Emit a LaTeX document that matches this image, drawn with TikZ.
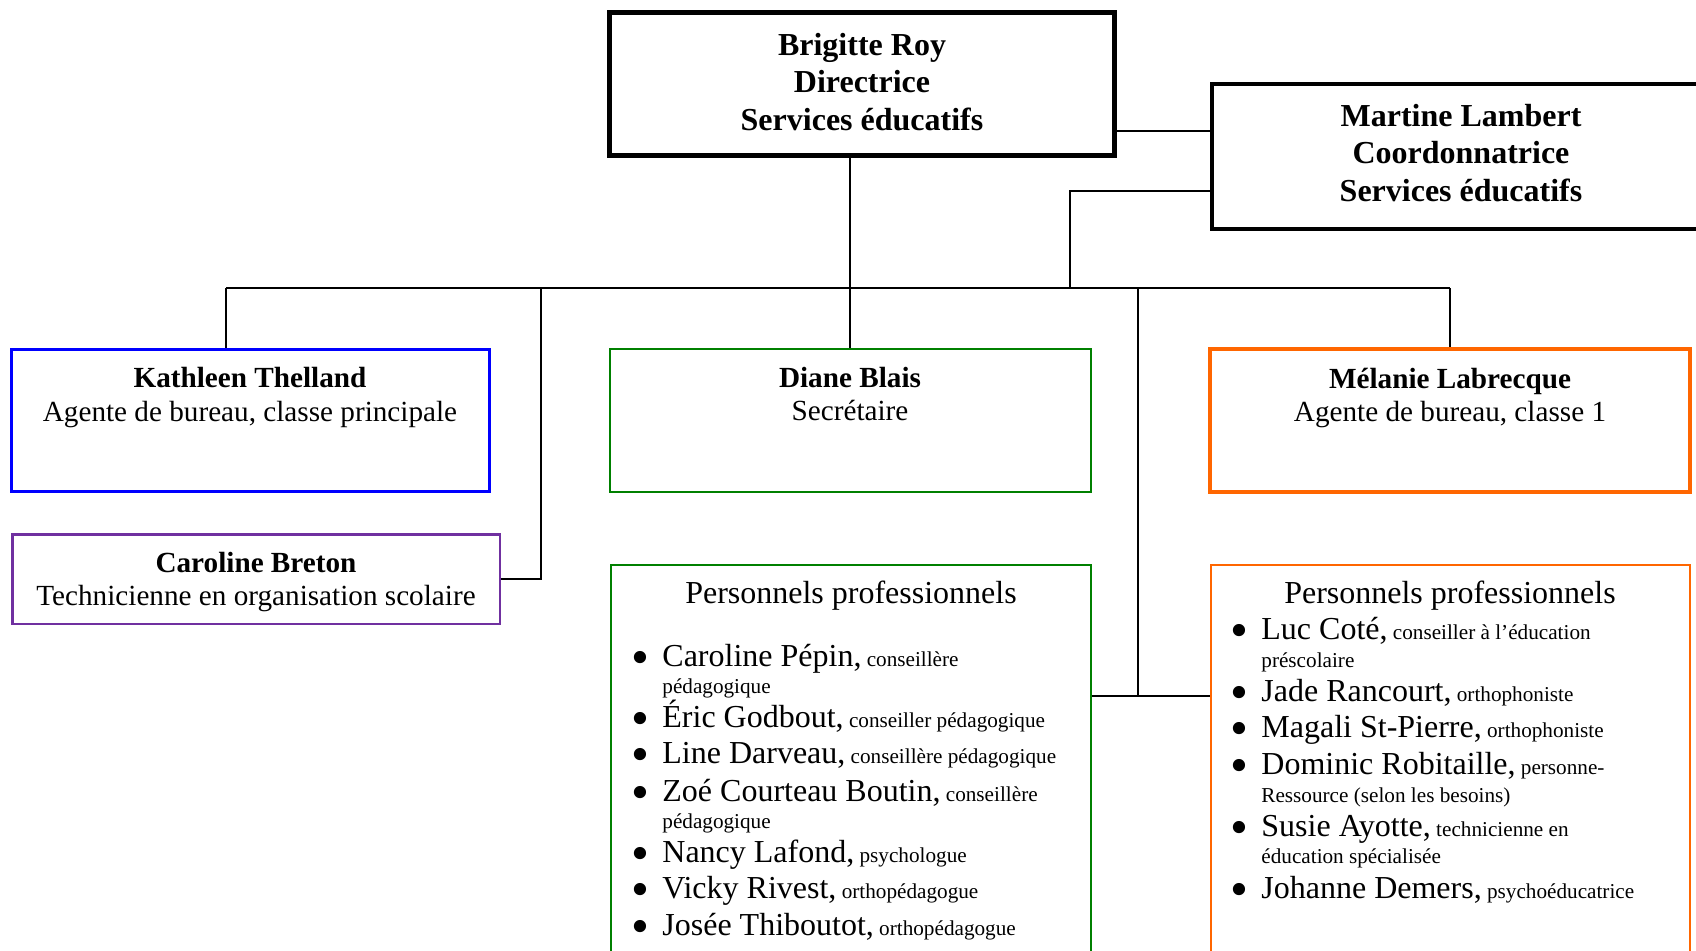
\documentclass[tikz,border=0pt]{standalone}
\usepackage{fontspec}
\setmainfont{Liberation Serif}
\newcommand{\petit}[1]{{\fontsize{10.6}{13}\selectfont#1}}
\newcommand{\pers}[2]{{\fontsize{16}{19}\selectfont #1,}\petit{ #2}}
\newcommand{\puce}{\makebox[12pt][l]{\hspace{-3.5pt}\raisebox{-4.2pt}[0pt][0pt]{\scalebox{1.6}{\textbullet}}}}

\begin{document}
\begin{tikzpicture}[x=0.5pt,y=-0.5pt,
  boite/.style={draw,rectangle,inner sep=0pt},
  txt/.style={anchor=base,inner sep=0pt},
  itm/.style={anchor=base west,inner sep=0pt,font=\fontsize{16}{19}\selectfont},
  lien/.style={line width=0.7pt},
  bus/.style={line width=1pt}]

\definecolor{cbleu}{RGB}{0,0,255};
\definecolor{cviolet}{RGB}{112,48,160};
\definecolor{cvert}{RGB}{0,128,0};
\definecolor{corange}{RGB}{255,102,0};
\def\gros{\fontsize{16}{19}\selectfont}
\def\moyen{\fontsize{14.6}{17}\selectfont}

\useasboundingbox (0,0) rectangle (1696,950);
\clip (0,0) rectangle (1696,950);

%%Cadres
\node[boite,line width=2.6pt,minimum width=252.5pt,minimum height=71.5pt] (roy) at (862,84) {};
\node[boite,line width=1.75pt,minimum width=249pt,minimum height=72.5pt] (lambert) at (1461,156.5) {};
\node[boite,draw=cbleu,line width=1.5pt,minimum width=239pt,minimum height=71pt] (thelland) at (250.5,420.5) {};
\node[boite,draw=cviolet,line width=1.25pt,minimum width=243.75pt,minimum height=44.75pt] (breton) at (256,579) {};
\node[boite,draw=cvert,line width=1pt,minimum width=240.5pt,minimum height=71.5pt] (blais) at (850.5,420.5) {};
\node[boite,draw=corange,line width=2pt,minimum width=240pt,minimum height=71.5pt] (labrecque) at (1450,420.5) {};
\node[boite,draw=cvert,line width=1pt,minimum width=240pt,minimum height=217.5pt] (profA) at (851,782.5) {};
\node[boite,draw=corange,line width=1pt,minimum width=239.5pt,minimum height=217.5pt] (profB) at (1450.5,782.5) {};

%%Textes des cadres
\node[txt,font=\gros\bfseries] (roy1) at (862,55) {Brigitte Roy};
\node[txt,font=\gros\bfseries] (roy2) at (862,92) {Directrice};
\node[txt,font=\gros\bfseries] (roy3) at (862,130) {Services éducatifs};
\node[txt,font=\gros\bfseries] (lam1) at (1461,126) {Martine Lambert};
\node[txt,font=\gros\bfseries] (lam2) at (1461,163) {Coordonnatrice};
\node[txt,font=\gros\bfseries] (lam3) at (1461,201) {Services éducatifs};
\node[txt,font=\moyen\bfseries] (the1) at (250,387) {Kathleen Thelland};
\node[txt,font=\moyen] (the2) at (250,421) {Agente de bureau, classe principale};
\node[txt,font=\moyen\bfseries] (bre1) at (256,572) {Caroline Breton};
\node[txt,font=\moyen] (bre2) at (256,605) {Technicienne en organisation scolaire};
\node[txt,font=\moyen\bfseries] (bla1) at (850,387) {Diane Blais};
\node[txt,font=\moyen] (bla2) at (850,420) {Secrétaire};
\node[txt,font=\moyen\bfseries] (lab1) at (1450,388) {Mélanie Labrecque};
\node[txt,font=\moyen] (lab2) at (1450,421) {Agente de bureau, classe 1};

%%Personnels
\node[txt,font=\gros] (titA) at (851,603) {Personnels professionnels};
\foreach \yy/\lbl [count=\i] in {666/{\pers{Caroline Pépin}{conseillère}},
  727/{\pers{Éric Godbout}{conseiller pédagogique}},
  763/{\pers{Line Darveau}{conseillère pédagogique}},
  801/{\pers{Zoé Courteau Boutin}{conseillère}},
  862/{\pers{Nancy Lafond}{psychologue}},
  898/{\pers{Vicky Rivest}{orthopédagogue}},
  935/{\pers{Josée Thiboutot}{orthopédagogue}}}
  \node[itm] (pa\i) at (638,\yy) {\puce\lbl};
\node[itm] (pa1b) at (662,693) {\petit{pédagogique}};
\node[itm] (pa4b) at (662,828) {\petit{pédagogique}};

\node[txt,font=\gros] (titB) at (1450,603) {Personnels professionnels};
\foreach \yy/\lbl [count=\i] in {639/{\pers{Luc Coté}{conseiller à l’éducation}},
  701/{\pers{Jade Rancourt}{orthophoniste}},
  737/{\pers{Magali St-Pierre}{orthophoniste}},
  774/{\pers{Dominic Robitaille}{personne-}},
  836/{\pers{Susie Ayotte}{technicienne en}},
  898/{\pers{Johanne Demers}{psychoéducatrice}}}
  \node[itm] (pb\i) at (1237,\yy) {\puce\lbl};
\node[itm] (pb1b) at (1261,667) {\petit{préscolaire}};
\node[itm] (pb4b) at (1261,802) {\petit{Ressource (selon les besoins)}};
\node[itm] (pb5b) at (1261,863) {\petit{éducation spécialisée}};

%%Liens
\coordinate (b0) at (226,288);
\coordinate (b1) at (541,288);
\coordinate (b2) at (850,288);
\coordinate (b3) at (1070,288);
\coordinate (b4) at (1138,288);
\coordinate (b5) at (1450,288);
\coordinate (h0) at (1114,131);
\coordinate (h1) at (1070,191);
\coordinate (p0) at (1138,696);

\draw[bus] (b0) -- (b5);
\draw[lien] (b0) -- (b0 |- thelland.north);
\draw[lien] (b1) |- (breton.east);
\draw[lien] (roy.south -| b2) -- (blais.north -| b2);
\draw[lien] (b3) |- (h1 -| lambert.west);
\draw[lien] (h0 -| roy.east) -- (h0 -| lambert.west);
\draw[lien] (b4) -- (p0);
\draw[bus] (p0 -| profA.east) -- (p0 -| profB.west);
\draw[lien] (b5) -- (labrecque.north);

\end{tikzpicture}
\end{document}
